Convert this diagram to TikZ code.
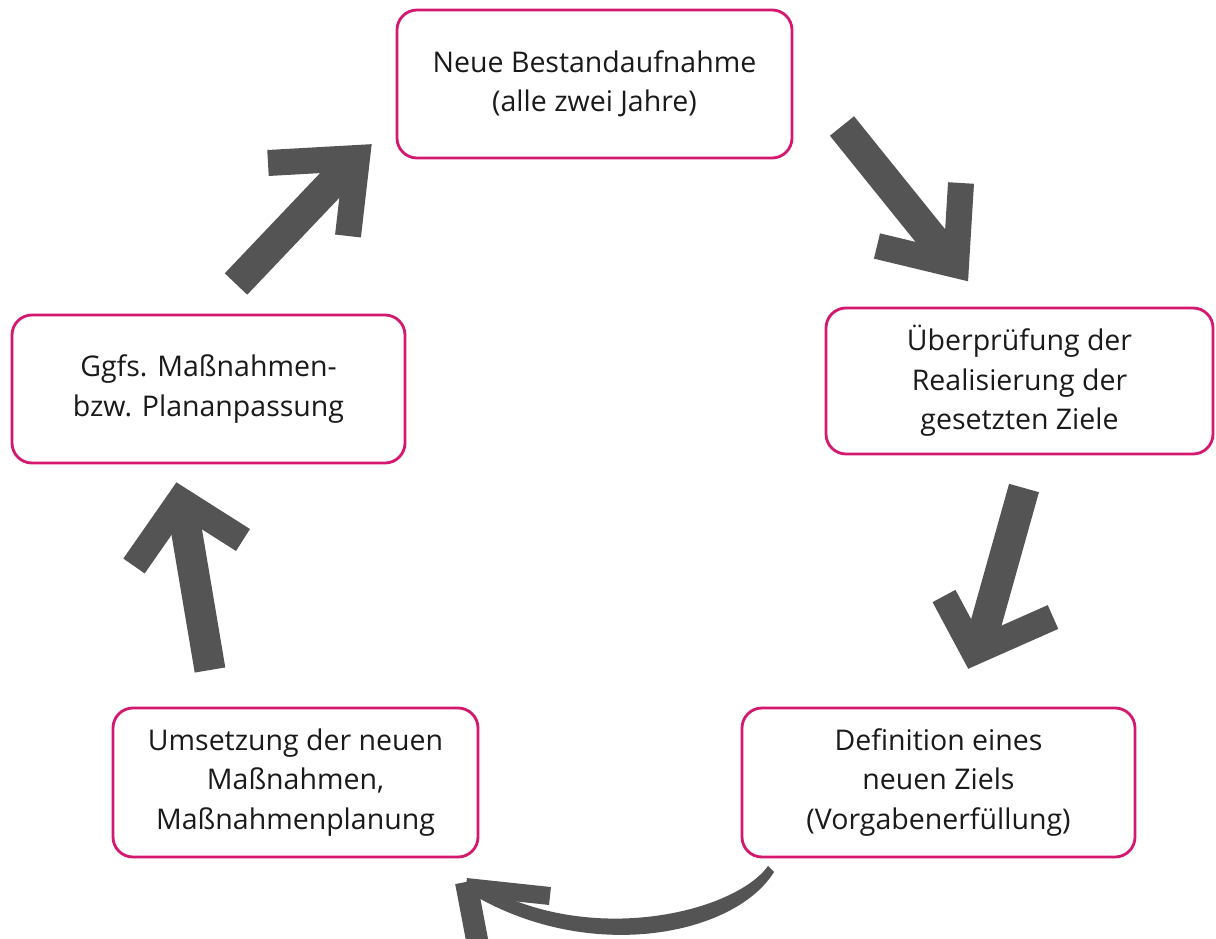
\documentclass[tikz,border=0pt]{standalone}
\usepackage{fontspec}
\setmainfont{Open Sans}
\definecolor{mag}{HTML}{D4176F}
\definecolor{brush}{HTML}{545454}
\definecolor{txt}{HTML}{1A1A1A}
\begin{document}
\begin{tikzpicture}[x=1pt,y=-1pt,
  box/.style={draw=mag, line width=2.8pt, rounded corners=20pt, fill=white,
    align=center, inner sep=0pt, text=txt,
    font=\fontsize{28.5}{39.5}\selectfont},
  shaft/.style={draw=brush, line width=31pt, line cap=butt},
  arm/.style={draw=brush, line width=26pt, line cap=butt, line join=miter},
]
\useasboundingbox (0,0) rectangle (1216,939);
\fill[white] (0,0) rectangle (1216,939);

\node[box, minimum width=395pt, minimum height=148pt] (top) at (594.5,84) {Neue Bestandaufnahme\\(alle zwei Jahre)};
\node[box, minimum width=387pt, minimum height=146pt] (right) at (1019.5,381) {Überprüfung der\\Realisierung der\\gesetzten Ziele};
\node[box, minimum width=393pt, minimum height=148pt] (left) at (208.5,389) {Ggfs. Maßnahmen-\\bzw. Plananpassung};
\node[box, minimum width=365pt, minimum height=149pt] (bl) at (295.5,782.5) {Umsetzung der neuen\\Maßnahmen,\\Maßnahmenplanung};
\node[box, minimum width=393pt, minimum height=149pt] (br) at (938.5,782.5) {Definition eines\\neuen Ziels\\(Vorgabenerfüllung)};

% arrow left -> top (up-right)
\coordinate (a1s) at (236,284);
\coordinate (a1t) at (352,162);
\draw[shaft] (a1s) -- (a1t);
\draw[arm] (268,163) -- (357,158) -- (348,236);

% arrow top -> right (down-right)
\coordinate (a2s) at (842,126);
\coordinate (a2t) at (950,260);
\draw[shaft] (a2s) -- (a2t);
\draw[arm] (877,246) -- (956,265) -- (961,183);

% arrow right -> br (down)
\coordinate (a3s) at (1024,488);
\coordinate (a3t) at (980,645);
\draw[shaft] (a3s) -- (a3t);
\draw[arm] (944,596) -- (974,652) -- (1053,617);

% arrow br -> bl (curved, left)
\coordinate (a4s) at (774,872);
\coordinate (a4t) at (470,893);
\fill[brush] (a4s) .. controls (735,935) and (590,965) .. (a4t)
  -- (480,884) .. controls (590,948) and (735,912) .. (768,866) -- cycle;
\draw[arm, line width=18pt] (550,896) -- (466,887);
\draw[arm, line width=22pt] (466,882) -- (478,945);

% arrow bl -> left (up)
\coordinate (a5s) at (210,670);
\coordinate (a5t) at (183,510);
\draw[shaft] (a5s) -- (a5t);
\draw[arm] (134,566) -- (180,500) -- (243,540);
\end{tikzpicture}
\end{document}
